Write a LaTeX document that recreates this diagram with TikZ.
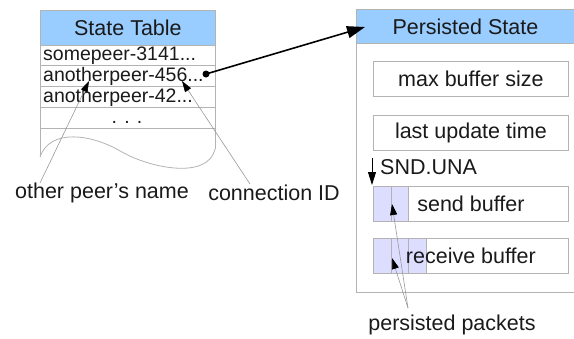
\documentclass[tikz,border=0pt]{standalone}
\usepackage{fontspec}
\setmainfont{Liberation Sans}
\usetikzlibrary{arrows.meta}
\definecolor{hdr}{HTML}{99CCFF}
\definecolor{rule}{HTML}{B3B3B3}
\definecolor{pkt}{HTML}{DDDDFF}
\definecolor{ink}{HTML}{1A1A1A}
\definecolor{lead}{HTML}{999999}
\begin{document}
\begin{tikzpicture}[x=1pt,y=-1pt,
  big/.style={font=\fontsize{21.5}{24}\selectfont, text=ink},
  rowtxt/.style={font=\fontsize{19.5}{22}\selectfont, text=ink, anchor=west, inner sep=0pt},
  hdrbox/.style={big, draw=rule, fill=hdr, line width=0.8pt, inner sep=0pt, anchor=north west},
  field/.style={big, draw=rule, line width=0.8pt, minimum width=195pt, minimum height=35pt, inner sep=0pt, anchor=north west},
  cell/.style={draw=rule, fill=pkt, line width=0.8pt},
  frame/.style={draw=rule, line width=0.8pt},
  leader/.style={draw=lead, line width=0.6pt, -{Triangle[length=11pt,width=7pt,color=black]}},
  pointer/.style={draw=black, line width=1.6pt, -{Triangle[length=18pt,width=12pt]}}
]
\useasboundingbox (0,0) rectangle (574,338);

% ---------- state table ----------
\draw[frame] (40,10) -- (40,157);
\draw[frame] (215,10) -- (215,149);
\draw[frame] (40,157) .. controls (50,128) and (92,134) .. (122,152)
             .. controls (150,168) and (208,180) .. (215,149);
\node[hdrbox, minimum width=175pt, minimum height=35pt] (st) at (40,10) {State Table};
\foreach \yy in {65,86,107,128} \draw[frame] (40,\yy) -- (215,\yy);
\node[rowtxt] (r1) at (43,55.5) {somepeer-3141...};
\node[rowtxt] (r2) at (43,76) {anotherpeer-456...};
\node[rowtxt] (r3) at (43,97) {anotherpeer-42...};
\node[rowtxt, anchor=base] (r4) at (127,123) {. . .};

% ---------- persisted state ----------
\draw[frame] (574,9) -- (356,9) -- (356,292) -- (574,292);
\node[hdrbox, minimum width=218pt, minimum height=34pt] (ps) at (356,9) {Persisted State};
\node[field, fill=white] (mbs) at (373,61) {max buffer size};
\node[field, fill=white] (lut) at (373,115) {last update time};

\draw[fill=white, draw=none] (373,186) rectangle (568,221);
\draw[cell] (373,186) rectangle (391,221);
\draw[cell] (391,186) rectangle (408,221);
\node[field] (sb) at (373,186) {send buffer};

\draw[fill=white, draw=none] (373,238) rectangle (568,273);
\draw[cell] (373,238) rectangle (391,273);
\draw[cell] (391,238) rectangle (408,273);
\draw[cell] (408,238) rectangle (426,273);
\node[field] (rb) at (373,238) {receive buffer};

\node[big, anchor=west, inner sep=0pt] (una) at (380,167) {SND.UNA};
\coordinate (unatop) at (372,158);
\coordinate (unatip) at (372,185);
\draw[draw=black, line width=0.8pt, -{Triangle[length=13pt,width=8pt]}] (unatop) -- (unatip);

% ---------- pointer from table entry to persisted state ----------
\coordinate (dot) at (206,74);
\coordinate (hit) at (365,27);
\fill[black] (dot) circle (3.5);
\draw[pointer] (dot) -- (hit);

% ---------- labels ----------
\node[big] (opn) at (102,193) {other peer\symbol{39}s name};
\node[big] (cid) at (274,193) {connection ID};
\node[big] (pp) at (452,325) {persisted packets};

\coordinate (opnfrom) at (40,183);
\coordinate (opnto) at (89,81);
\coordinate (cidfrom) at (250,184);
\coordinate (cidto) at (182,81);
\coordinate (ppfrom) at (408,308);
\coordinate (ppsend) at (392,204);
\coordinate (pprecv) at (392,258);
\draw[leader] (opnfrom) -- (opnto);
\draw[leader] (cidfrom) -- (cidto);
\draw[leader] (ppfrom) -- (ppsend);
\draw[leader] (ppfrom) -- (pprecv);
\end{tikzpicture}
\end{document}
